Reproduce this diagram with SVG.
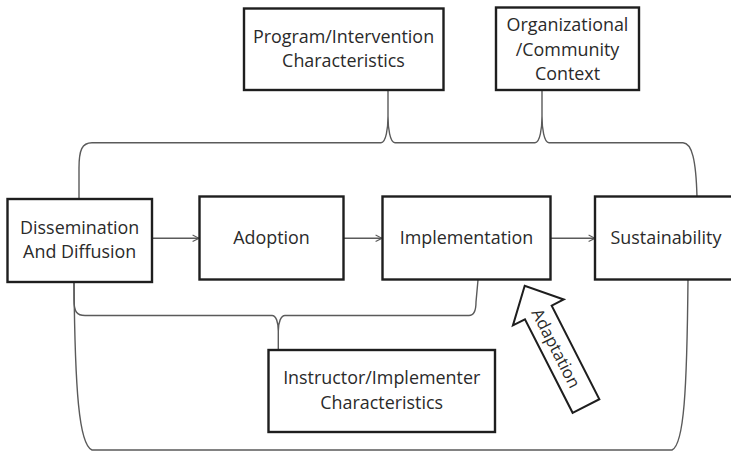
<svg xmlns="http://www.w3.org/2000/svg" width="731" height="452" viewBox="0 0 731 452">
  <defs>
    <style>
      .box { fill: #ffffff; stroke: #1e1e1e; stroke-width: 2.4; }
      .lbl { font-family: "Open Sans", "Noto Sans", sans-serif; font-size: 17.9px; fill: #2a2a2a; text-anchor: middle; }
      .conn { fill: none; stroke: #5a5a5a; stroke-width: 1.4; }
      .flow { fill: none; stroke: #5a5a5a; stroke-width: 1.4; marker-end: url(#chev); }
      .block { fill: #ffffff; stroke: #1e1e1e; stroke-width: 2; stroke-linejoin: miter; }
    </style>
    <marker id="chev" viewBox="0 0 10 10" refX="9" refY="5" markerWidth="8" markerHeight="8" markerUnits="userSpaceOnUse" orient="auto">
      <path d="M1,1 L9,5 L1,9" fill="none" stroke="#5a5a5a" stroke-width="1.4"/>
    </marker>
  </defs>
  <rect width="731" height="452" fill="#ffffff"/>

  <!-- braces and flow arrows -->
  <g id="connectors">
    <path class="conn" d="M79,199 L79,168 C79,150 82,142.7 92,142.7 L381,142.7 C386,142.7 388,128 388,116 C388,128 390,142.7 395,142.7 L535,142.7 C540,142.7 542,128 542,116 C542,128 544,142.7 549,142.7 L683,142.7 C692,143 696,160 697,197"/>
    <path class="conn" d="M388,90 L388,116 M542,90 L542,116"/>
    <path class="conn" d="M74,282 L74,300 C74,312 77,315.5 85,315.5 L272,315.5 C276,315.5 278.3,322 278.3,331 C278.3,322 281,315.5 285,315.5 L469,315.5 C474,315.5 476,310 476,302 L478,280"/>
    <path class="conn" d="M278.3,331 L278.3,350"/>
    <path class="conn" d="M74,282 C75,390 79,445 92,450 L672,450 C684,445 687,390 688,279"/>
    <path class="flow" d="M152,238.3 L199,238.3"/>
    <path class="flow" d="M343.5,238.3 L382,238.3"/>
    <path class="flow" d="M551,238.3 L595,238.3"/>
  </g>

  <g id="program">
    <rect class="box" x="244" y="8.5" width="199.5" height="81.5"/>
    <text class="lbl" x="343.5" y="43">Program/Intervention</text>
    <text class="lbl" x="343.5" y="67">Characteristics</text>
  </g>

  <g id="organizational">
    <rect class="box" x="496" y="7.5" width="143" height="82.5"/>
    <text class="lbl" x="567.5" y="31">Organizational</text>
    <text class="lbl" x="567.5" y="55.5">/Community</text>
    <text class="lbl" x="567.5" y="80">Context</text>
  </g>

  <g id="dissemination">
    <rect class="box" x="7.5" y="199" width="144.5" height="83"/>
    <text class="lbl" x="79.7" y="233.5">Dissemination</text>
    <text class="lbl" x="79.7" y="257.5">And Diffusion</text>
  </g>

  <g id="adoption">
    <rect class="box" x="199.5" y="196.5" width="144" height="83"/>
    <text class="lbl" x="271.5" y="244">Adoption</text>
  </g>

  <g id="implementation">
    <rect class="box" x="382.5" y="196.5" width="168" height="83"/>
    <text class="lbl" x="466.5" y="244">Implementation</text>
  </g>

  <g id="sustainability">
    <rect class="box" x="595" y="196.5" width="150" height="83"/>
    <text class="lbl" x="666" y="244">Sustainability</text>
  </g>

  <g id="instructor">
    <rect class="box" x="268.5" y="350" width="226.5" height="82"/>
    <text class="lbl" x="381.7" y="383.5">Instructor/Implementer</text>
    <text class="lbl" x="381.7" y="408.5">Characteristics</text>
  </g>

  <!-- block arrow pointing at Implementation -->
  <g id="adaptation" transform="translate(586,406) rotate(-27)">
    <polygon class="block" points="-15,0 15,0 15,-105 28.5,-105 0,-135 -28.5,-105 -15,-105"/>
    <text class="lbl" transform="translate(0,-65) rotate(90)" dominant-baseline="central" style="font-size:16.8px">Adaptation</text>
  </g>
</svg>
